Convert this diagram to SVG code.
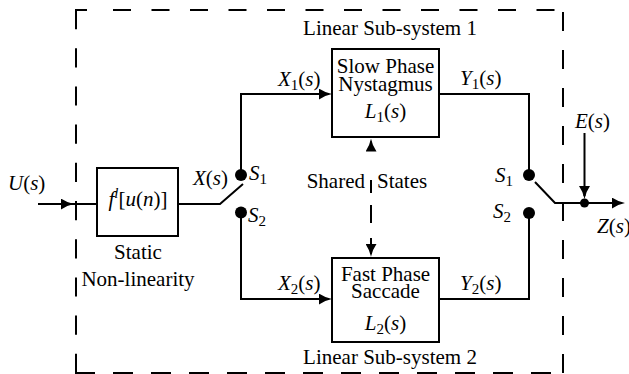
<svg xmlns="http://www.w3.org/2000/svg" width="629" height="374" viewBox="0 0 629 374" font-family="'Liberation Serif', 'Times New Roman', 'DejaVu Serif', serif">
<defs>
<style>
.ln{fill:none;stroke:#000;stroke-width:2}
.box{fill:#fff;stroke:#000;stroke-width:2}
.bd{fill:none;stroke:#000;stroke-width:2}
.t{font-family:'Liberation Serif','Times New Roman','DejaVu Serif',serif;font-size:21px;fill:#000}
.i{font-style:italic}
.s{font-size:15px}
.c{text-anchor:middle}
</style>
<marker id="arr" viewBox="0 0 13 11" refX="10" refY="5.5" markerWidth="13" markerHeight="11" markerUnits="userSpaceOnUse" orient="auto">
<path d="M0,0 Q6,4.2 13,5.5 Q6,6.8 0,11 Z" fill="#000"/>
</marker>
</defs>
<rect width="629" height="374" fill="#fff"/>

<g id="border">
<path class="bd" d="M87,10 H76 V29.2"/>
<path class="bd" d="M76,48.2 V373" stroke-dasharray="19.2 19"/>
<path class="bd" d="M113,10 H555" stroke-dasharray="18 20.5"/>
<path class="bd" d="M563,12 V373" stroke-dasharray="19 19"/>
<path class="bd" d="M75,373 H556" stroke-dasharray="20 18"/>
<text class="t c" x="390" y="35">Linear Sub-system 1</text>
<text class="t c" x="390" y="364">Linear Sub-system 2</text>
</g>

<g id="connectors">
<path class="ln" d="M38,204 H71" marker-end="url(#arr)"/>
<path class="ln" d="M71,204 H97"/>
<path class="ln" d="M178,204 H220 L243,184"/>
<path class="ln" d="M241,175 V94 H329" marker-end="url(#arr)"/>
<path class="ln" d="M241,212.5 V299 H329" marker-end="url(#arr)"/>
<path class="ln" d="M439,94 H529 V175"/>
<path class="ln" d="M439,299 H529 V213"/>
<path class="ln" d="M535,182 L555,203 H622" marker-end="url(#arr)"/>
<path class="ln" d="M584.5,133 V196" marker-end="url(#arr)"/>
<path class="ln" d="M371,151 V141.5" marker-end="url(#arr)"/>
<path class="ln" d="M371,180 V193"/>
<path class="ln" d="M371,205 V223"/>
<path class="ln" d="M371,238 V254" marker-end="url(#arr)"/>
<circle cx="241" cy="175" r="6"/>
<circle cx="241" cy="212.5" r="6"/>
<circle cx="529" cy="175" r="6"/>
<circle cx="529" cy="213" r="6"/>
<circle cx="584.5" cy="203" r="4.5"/>
</g>

<g id="input-label">
<text class="t" x="8" y="190"><tspan class="i">U</tspan>(<tspan class="i">s</tspan>)</text>
</g>

<g id="nonlinearity">
<rect class="box" x="97" y="168" width="81" height="68"/>
<text class="t c" x="138" y="206"><tspan class="i">f</tspan><tspan class="i s" dy="-8">l</tspan><tspan dy="8">[</tspan><tspan class="i">u</tspan>(<tspan class="i">n</tspan>)]</text>
<text class="t c" x="138" y="259">Static</text>
<text class="t c" x="138" y="286">Non-linearity</text>
</g>

<g id="switch-left">
<text class="t" x="193" y="185"><tspan class="i">X</tspan>(<tspan class="i">s</tspan>)</text>
<text class="t" x="249" y="180"><tspan class="i">S</tspan><tspan class="s" dy="4">1</tspan></text>
<text class="t" x="248" y="222"><tspan class="i">S</tspan><tspan class="s" dy="4">2</tspan></text>
<text class="t" x="278" y="86"><tspan class="i">X</tspan><tspan class="s" dy="4">1</tspan><tspan dy="-4">(</tspan><tspan class="i">s</tspan>)</text>
<text class="t" x="278" y="290"><tspan class="i">X</tspan><tspan class="s" dy="4">2</tspan><tspan dy="-4">(</tspan><tspan class="i">s</tspan>)</text>
</g>

<g id="slow-phase">
<rect class="box" x="332" y="49" width="107" height="88"/>
<text class="t c" x="385.5" y="73">Slow Phase</text>
<text class="t c" x="385.5" y="91">Nystagmus</text>
<text class="t c" x="385.5" y="118"><tspan class="i">L</tspan><tspan class="s" dy="4">1</tspan><tspan dy="-4">(</tspan><tspan class="i">s</tspan>)</text>
</g>

<g id="fast-phase">
<rect class="box" x="332" y="258" width="107" height="84"/>
<text class="t c" x="385.5" y="281">Fast Phase</text>
<text class="t c" x="385.5" y="298">Saccade</text>
<text class="t c" x="385.5" y="330"><tspan class="i">L</tspan><tspan class="s" dy="4">2</tspan><tspan dy="-4">(</tspan><tspan class="i">s</tspan>)</text>
</g>

<g id="shared-states">
<text class="t" x="365" y="188" text-anchor="end">Shared</text>
<text class="t" x="377" y="188">States</text>
</g>

<g id="outputs">
<text class="t" x="460" y="85"><tspan class="i">Y</tspan><tspan class="s" dy="4">1</tspan><tspan dy="-4">(</tspan><tspan class="i">s</tspan>)</text>
<text class="t" x="460" y="290"><tspan class="i">Y</tspan><tspan class="s" dy="4">2</tspan><tspan dy="-4">(</tspan><tspan class="i">s</tspan>)</text>
<text class="t" x="495" y="182"><tspan class="i">S</tspan><tspan class="s" dy="4">1</tspan></text>
<text class="t" x="493" y="218"><tspan class="i">S</tspan><tspan class="s" dy="4">2</tspan></text>
<text class="t" x="575" y="128"><tspan class="i">E</tspan>(<tspan class="i">s</tspan>)</text>
<text class="t" x="597" y="233"><tspan class="i">Z</tspan>(<tspan class="i">s</tspan>)</text>
</g>
</svg>
